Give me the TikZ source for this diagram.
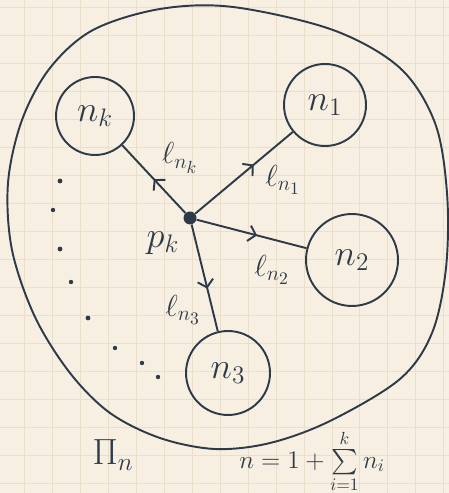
\documentclass[tikz,border=0pt]{standalone}
\usepackage{amsmath,amssymb}
\usepackage{xcolor}
\usepackage{tikz}
\usetikzlibrary{arrows.meta,decorations.markings}

\definecolor{ink}{HTML}{2E3A48}
\definecolor{paper}{HTML}{F7F0E2}
\definecolor{rule}{HTML}{E9DFCB}

\begin{document}
\begin{tikzpicture}[x=0.02cm, y=0.02cm,
    blob/.style={draw=ink, circle, line width=1.1pt, inner sep=0pt, text=ink, font=\huge},
    flow/.style={draw=ink, line width=1.1pt, postaction={decorate},
      decoration={markings, mark=at position #1 with {\arrow{Straight Barb[length=4pt,width=9pt,line width=1.1pt]}}}},
    flow/.default=0.55,
    lab/.style={text=ink, font=\LARGE}]
    % paper
    \useasboundingbox (0,0) rectangle (449,493);
    \fill[paper] (0,0) rectangle (449,493);
    \begin{scope}
      \clip (0,0) rectangle (449,493);
      \draw[rule, line width=0.5pt, step=0.56cm, shift={(24,10)}] (-24,-10) grid (425,483);
    \end{scope}
    % outer region
    \draw[ink, line width=1.1pt] plot[smooth cycle, tension=0.55] coordinates {
      (22,373) (50,425) (93,463) (160,484) (233,486) (333,463) (400,425)
      (435,370) (447,300) (446,225) (432,160) (400,114) (330,72) (270,50)
      (215,44) (160,55) (110,80) (70,120) (35,176) (12,243) (8,310)};
    % hub and subtrees
    \node[circle, fill=ink, minimum size=0.26cm, inner sep=0pt] (pk) at (190,275) {};
    \node[blob, minimum size=1.56cm] (nk) at (95,377) {$n_k$};
    \node[blob, minimum size=1.64cm] (n1) at (325,388) {$n_1$};
    \node[blob, minimum size=1.84cm] (n2) at (352,233) {$n_2$};
    \node[blob, minimum size=1.68cm] (n3) at (228,120) {$n_3$};
    \draw[flow=0.5] (pk) -- (nk);
    \draw[flow=0.6] (pk) -- (n1);
    \draw[flow=0.55] (pk) -- (n2);
    \draw[flow=0.6] (pk) -- (n3);
    \node[lab] (lk) at (180,335) {$\ell_{n_k}$};
    \node[lab] (l1) at (283,313) {$\ell_{n_1}$};
    \node[lab] (l2) at (272,223) {$\ell_{n_2}$};
    \node[lab] (l3) at (183,183) {$\ell_{n_3}$};
    \node[lab, font=\huge] (plab) at (163,250) {$p_k$};
    % the remaining subtrees
    \fill[ink] (60,312) circle (2.4);
    \fill[ink] (53,283) circle (2.2);
    \fill[ink] (60,244) circle (2.4);
    \fill[ink] (71,211) circle (2.2);
    \fill[ink] (88,175) circle (2.4);
    \fill[ink] (115,145) circle (2.2);
    \fill[ink] (142,130) circle (2.2);
    \fill[ink] (158,116) circle (2.2);
    % captions
    \node[lab, font=\huge] (pin) at (113,38) {$\Pi_n$};
    \node[lab, font=\Large] (sum) at (312,32) {$n = 1 + \sum\limits_{i=1}^{k} n_i$};
\end{tikzpicture}
\end{document}
